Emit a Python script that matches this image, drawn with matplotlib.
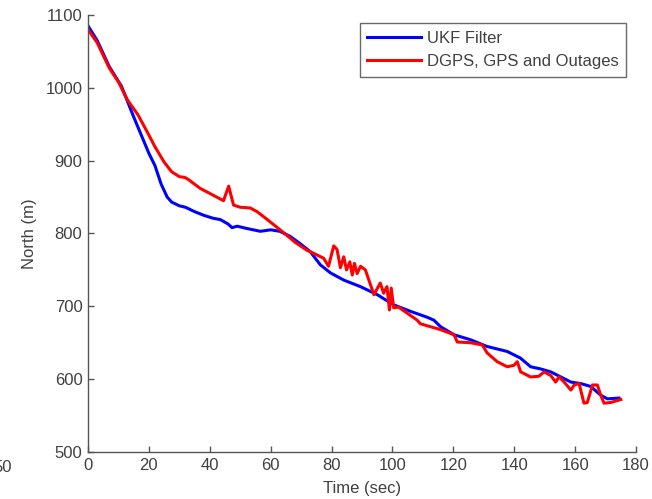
import matplotlib
matplotlib.use("Agg")
import matplotlib.pyplot as plt

plt.rcParams['font.family'] = ['Liberation Sans', 'DejaVu Sans']

ukf_t = [0, 3, 7, 11, 15, 20, 22, 24, 26, 27.5, 30, 32, 35, 38, 41, 43.5, 46, 47.3, 49, 52,
         56.6, 60, 63, 66.4, 70, 73, 76.3, 79.6, 84, 89.5, 95, 100.4, 106, 111.4, 113.6,
         115.8, 120.2, 125.7, 131, 137.7, 142, 145.4, 148.7, 152, 155.3, 158.6, 161.8,
         165.1, 168.4, 170.6, 174.4]
ukf_north = [1085, 1065, 1029, 1002, 960, 910, 893, 868, 850, 843, 838, 836, 830, 825, 821,
             819, 813, 808, 810, 807, 803, 805, 803, 796, 785, 775, 757, 746, 736, 727, 716,
             702, 693, 685, 681, 672, 661, 654, 645, 638, 629, 617, 614, 610, 603, 596, 594,
             590, 578, 573, 574]

gps_t = [0, 3, 7, 10, 13, 16.4, 20, 22, 25, 27.4, 30, 31.8, 33, 36.8, 40, 44.5, 46.2, 47.8,
         50, 53.3, 55.5, 58, 61, 64.3, 68, 71.9, 73, 77.4, 79, 80.7, 81.8, 82.9, 84, 84.9,
         86, 86.8, 87.5, 88.4, 89.5, 91.1, 93.9, 96, 97.1, 98.2, 99, 99.6, 100.4, 102,
         104.7, 108.1, 109.2, 115.8, 120.2, 121.3, 125.7, 129.5, 131.1, 134.4, 137.7,
         139.9, 141, 142.1, 145.4, 148.1, 149.8, 152, 153.6, 154.7, 156.4, 158.6, 159.7,
         161.3, 162.9, 164, 165.7, 167.3, 168.4, 169.5, 171.7, 175]
gps_north = [1080, 1062, 1027, 1008, 983, 963, 935, 919, 898, 885, 878, 877, 874, 862, 855,
             845, 865, 839, 836, 835, 830, 822, 812, 801, 788, 777, 775, 766, 755, 783, 778,
             753, 768, 750, 761, 743, 759, 745, 755, 750, 716, 732, 718, 727, 695, 725, 698,
             699, 691, 681, 676, 668, 661, 651, 650, 647, 636, 624, 617, 619, 624, 610, 603,
             604, 610, 605, 596, 603, 596, 585, 592, 594, 567, 568, 592, 592, 578, 567, 568,
             572]

xticks = [0, 20, 40, 60, 80, 100, 120, 140, 160, 180]
yticks = [500, 600, 700, 800, 900, 1000, 1100]

fig = plt.figure(figsize=(6.52, 4.99), dpi=100)
ax = fig.add_axes([0.135, 0.0942, 0.8405, 0.8758])

ax.plot(ukf_t, ukf_north, color='#0000ff', lw=2.2, label='UKF Filter')
ax.plot(gps_t, gps_north, color='#ff0000', lw=2.2, label='DGPS, GPS and Outages')

ax.set_xlim(0, 180)
ax.set_ylim(500, 1100)
ax.set_xticks(xticks)
ax.set_yticks(yticks)

for s in ['top', 'right']:
    ax.spines[s].set_visible(False)
for s in ['left', 'bottom']:
    ax.spines[s].set_color('#555555')
    ax.spines[s].set_linewidth(1.0)
ax.tick_params(direction='in', length=4, width=1, colors='#555555', labelcolor='#404040',
               labelsize=12, pad=4)

ax.set_xlabel('Time (sec)', fontsize=12, color='#404040', labelpad=6)
ax.set_ylabel('North (m)', fontsize=12, color='#404040', labelpad=6)

leg = ax.legend(loc='upper right', bbox_to_anchor=(0.9815, 0.981), fontsize=12,
                frameon=True, fancybox=False, handlelength=3.2, handletextpad=0.35,
                borderpad=0.45, labelspacing=0.5, borderaxespad=0)
leg.get_frame().set_edgecolor('#444444')
leg.get_frame().set_linewidth(1.0)
for t in leg.get_texts():
    t.set_color('#404040')

fig.text(12 / 652, 1 - 467 / 499, '50', fontsize=12, color='#404040', ha='right', va='center')

fig.savefig('out.png', dpi=100)
